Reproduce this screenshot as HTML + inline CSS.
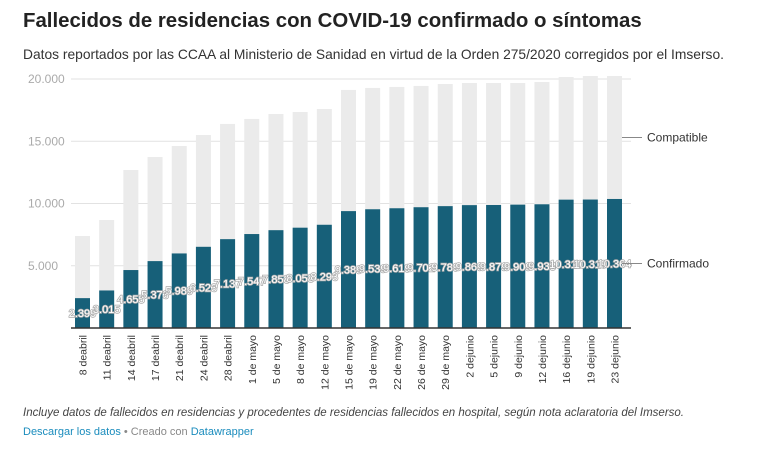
<!DOCTYPE html>
<html><head><meta charset="utf-8">
<style>
body{margin:0;background:#fff;font-family:"Liberation Sans",sans-serif;width:771px;height:462px;overflow:hidden;position:relative}
#title{position:absolute;left:23px;top:10px;font-size:20.4px;font-weight:bold;color:#222;margin:0}
#sub{position:absolute;left:23px;top:47px;font-size:13.8px;color:#333}
#note{position:absolute;left:23px;top:407px;font-size:11.5px;font-style:italic;color:#444}
#foot{position:absolute;left:23px;top:426px;font-size:11px;color:#888}
#foot a{color:#1a8cbd;text-decoration:none}
svg{position:absolute;left:0;top:0}
</style></head><body>
<h1 id="title">Fallecidos de residencias con COVID-19 confirmado o síntomas</h1>
<div id="sub">Datos reportados por las CCAA al Ministerio de Sanidad en virtud de la Orden 275/2020 corregidos por el Imserso.</div>
<svg id="chart" width="771" height="462"></svg>
<div id="note">Incluye datos de fallecidos en residencias y procedentes de residencias fallecidos en hospital, según nota aclaratoria del Imserso.</div>
<div id="foot"><a href="#">Descargar los datos</a> • Creado con <a href="#">Datawrapper</a></div>
<script>
const categories=["8 deabril","11 deabril","14 deabril","17 deabril","21 deabril","24 deabril","28 deabril","1 de mayo","5 de mayo","8 de mayo","12 de mayo","15 de mayo","19 de mayo","22 de mayo","26 de mayo","29 de mayo","2 dejunio","5 dejunio","9 dejunio","12 dejunio","16 dejunio","19 dejunio","23 dejunio"];
const confirmed=[2399,3015,4655,5373,5989,6523,7137,7547,7858,8058,8293,9389,9539,9619,9702,9789,9869,9879,9909,9938,10310,10319,10364];
const totals=[7390,8675,12690,13735,14620,15500,16390,16790,17190,17350,17590,19120,19280,19360,19440,19600,19680,19680,19680,19760,20160,20240,20240];
const yTicks=[5000,10000,15000,20000];
const yTickLabels=["5.000","10.000","15.000","20.000"];
const NS="http://www.w3.org/2000/svg",svg=document.getElementById('chart');
const gx0=71,gx1=631,yBase=328,yTop=79;
const y=v=>yBase-(v/20000)*(yBase-yTop);
const n=categories.length,bw=15,firstX=75,step=(607-75)/(n-1);
const bx=i=>firstX+step*i;
function el(t,a,p){const e=document.createElementNS(NS,t);for(const k in a)e.setAttribute(k,a[k]);(p||svg).appendChild(e);return e;}
yTicks.forEach((t,i)=>{
 const g=el('line',{x1:gx0,x2:gx1,y1:y(t),y2:y(t),stroke:'#e2e2e2'});
 
 const l=el('text',{x:28,y:y(t)+4,'font-size':12,fill:'#aaa'});l.textContent=yTickLabels[i];
 
});
categories.forEach((c,i)=>{
 const r=el('rect',{x:bx(i),y:y(totals[i]),width:bw,height:y(confirmed[i])-y(totals[i]),fill:'#ebebeb'});
 
 const b=el('rect',{x:bx(i),y:y(confirmed[i]),width:bw,height:yBase-y(confirmed[i]),fill:'#176079'});
 
 const v=el('text',{x:bx(i)+bw/2,y:(y(confirmed[i])+yBase)/2+4,'font-size':11,fill:'#fff','text-anchor':'middle',stroke:'#aaa','stroke-width':1.5,'paint-order':'stroke'});
 v.textContent=confirmed[i].toLocaleString('de-DE');
 
 const cx=bx(i)+bw/2+4;
 const t=el('text',{x:0,y:0,'font-size':10.5,fill:'#333','text-anchor':'end',transform:`translate(${cx},335) rotate(-90)`});
 t.textContent=c;
});
const ax=el('line',{x1:gx0,x2:gx1,y1:yBase,y2:yBase,stroke:'#333','stroke-width':1.5});

const li=n-1;
[['Compatible',(y(totals[li])+y(confirmed[li]))/2,'legend-compatible'],['Confirmado',(y(confirmed[li])+yBase)/2,'legend-confirmado']].forEach(([txt,yy,nm])=>{
 const ln=el('line',{x1:622,x2:642,y1:yy,y2:yy,stroke:'#888'});
 
 const t=el('text',{x:647,y:yy+4,'font-size':12,fill:'#333'});t.textContent=txt;
 
});
</script>
</body></html>
